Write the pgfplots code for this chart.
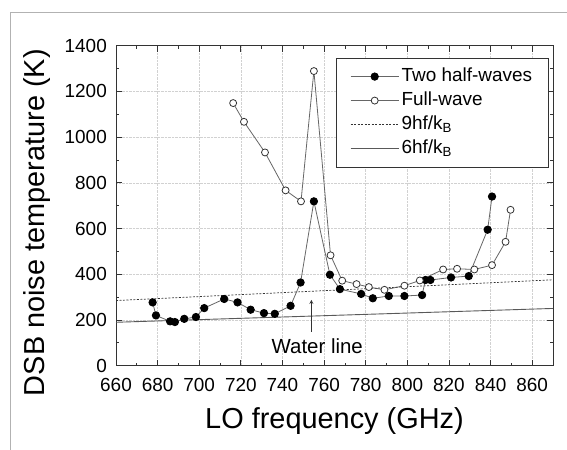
\documentclass[border=0pt]{standalone}
\usepackage{pgfplots}
\pgfplotsset{compat=1.18}
\usepackage{fontspec}
\setmainfont{Liberation Sans}

\begin{document}
\begin{tikzpicture}
\useasboundingbox (0,0) rectangle (567bp,450bp);
% light frame of the scanned figure
\draw[black!30, line width=1.2bp] (10.5bp,0) -- (10.5bp,437.3bp) -- (567bp,437.3bp);
\begin{axis}[
  at={(116bp,84.3bp)}, anchor=south west,
  scale only axis, width=437bp, height=320bp,
  xmin=660, xmax=870, ymin=0, ymax=1400,
  xtick={660,680,...,860}, ytick={0,200,...,1400},
  minor x tick num=1, minor y tick num=1,
  tick align=inside, major tick length=6bp, minor tick length=3bp,
  xmajorgrids, ymajorgrids,
  grid style={black!18, densely dotted, line width=0.5bp},
  axis line style={black!80, line width=1bp},
  every tick/.style={black!80, line width=0.8bp},
  tick label style={font=\fontsize{19}{22}\selectfont, inner sep=1bp},
  x tick label style={yshift=-11bp},
  y tick label style={xshift=-8bp},
  /pgf/number format/assume math mode=true,
  /pgf/number format/1000 sep={},
  label style={font=\fontsize{29}{32}\selectfont},
  xlabel={LO frequency (GHz)}, ylabel={DSB noise temperature (K)},
  xlabel style={yshift=-12bp},
  ylabel style={yshift=10bp, xshift=-17bp},
  legend style={at={(1,1)}, anchor=north east, xshift=-4bp, yshift=-12bp,
    draw=black!80, line width=0.8bp, fill=white,
    font=\fontsize{19}{22}\selectfont,
    inner xsep=14bp, inner ysep=7bp, row sep=1bp,
    nodes={text height=13.5bp, text depth=4.5bp, inner sep=2.5bp}},
  legend cell align=left,
  legend image code/.code={\draw[mark repeat=2, mark phase=2]
    plot coordinates {(0bp,0bp) (24bp,0bp) (48bp,0bp)};},
]
\addplot[black!60, line width=0.8bp, mark=*, mark size=3.7bp,
  mark options={black, fill=black, solid}]
  coordinates {(677.6,277) (679.2,220) (686.0,194) (688.3,191) (692.8,205)
  (698.4,213) (702.4,252) (712.0,292) (718.4,277) (724.7,245) (731.1,230)
  (736.3,227) (743.9,262) (748.7,364) (755.1,719) (762.8,398) (767.6,335)
  (777.8,314) (783.4,295) (791.1,305) (798.6,305) (807.1,309) (808.7,375)
  (811.1,375) (821.0,386) (829.5,392) (838.6,595) (840.7,740)};
\addlegendentry{Two half-waves}
\addplot[black!60, line width=0.8bp, mark=*, mark size=3.5bp,
  mark options={black!80, fill=white, solid, line width=0.8bp}]
  coordinates {(716.3,1149) (721.5,1067) (731.6,933) (741.5,767) (748.9,719)
  (755.1,1289) (763.1,483) (768.7,372) (775.6,357) (781.5,344) (789.0,332)
  (798.6,350) (806.0,373) (817.2,421) (823.9,424) (832.2,421) (840.7,440)
  (847.2,542) (849.6,682)};
\addlegendentry{Full-wave}
\addplot[black!80, line width=0.7bp, dash pattern=on 2bp off 1.5bp]
  coordinates {(660,285.1) (870,375.8)};
\addlegendentry{9hf/k\textsubscript{B}}
\addplot[black!65, line width=0.9bp]
  coordinates {(660,190.0) (870,250.5)};
\addlegendentry{6hf/k\textsubscript{B}}
\draw[black!80, line width=0.8bp, -stealth] (axis cs:753.9,149) -- (axis cs:753.9,288);
\node[font=\fontsize{20.5}{24}\selectfont] at (axis cs:756.7,86) {Water line};
\end{axis}
\end{tikzpicture}
\end{document}
